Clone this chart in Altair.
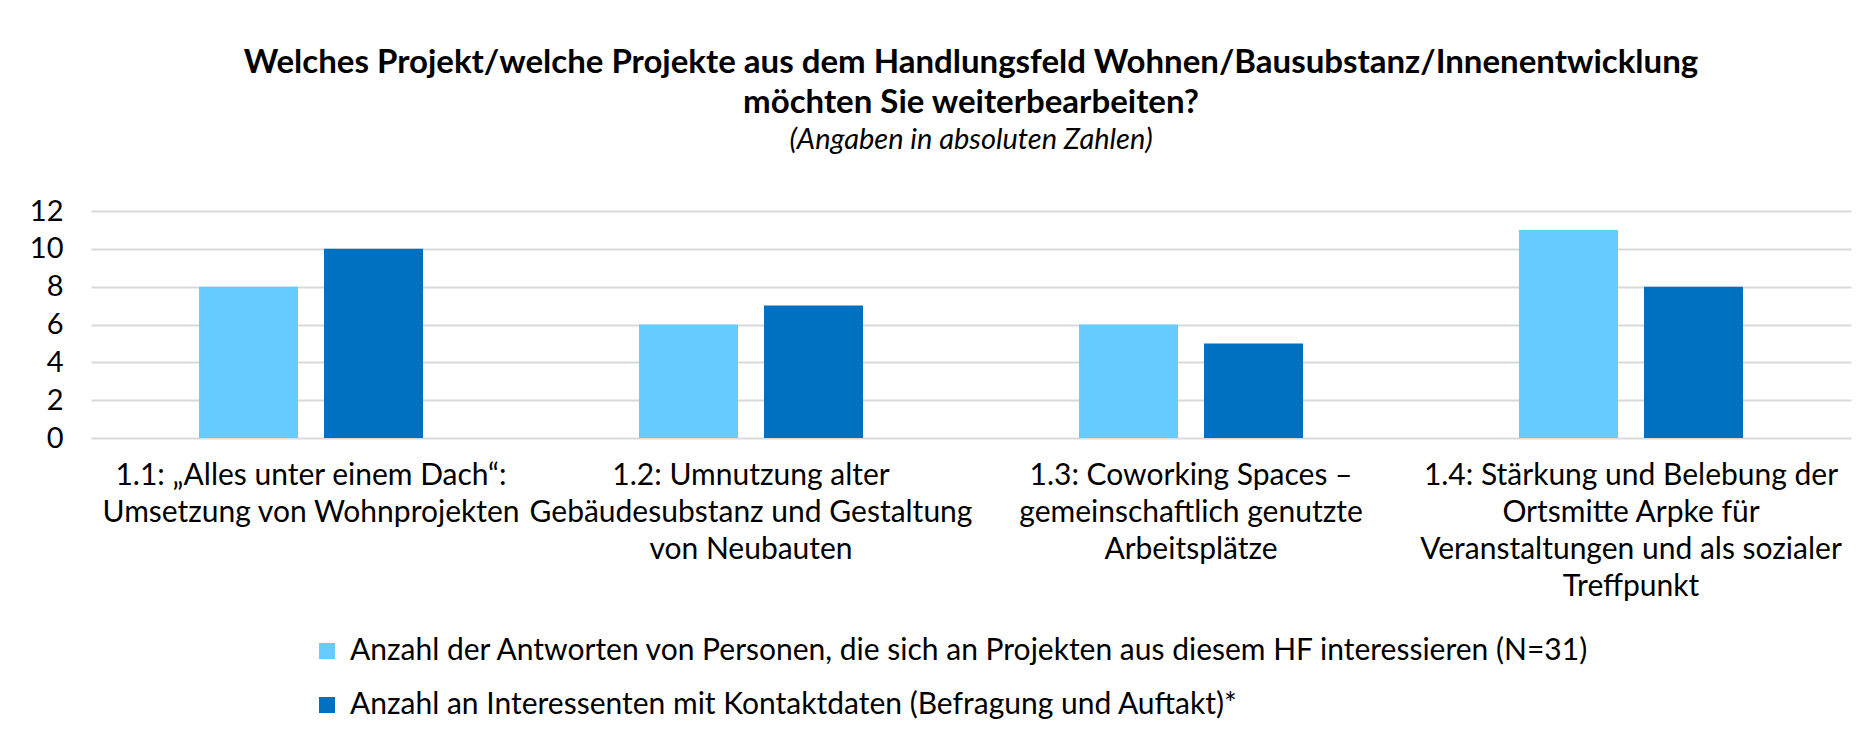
import altair as alt
import pandas as pd

categories = ["1.1", "1.2", "1.3", "1.4"]
category_labels = [
    "1.1: „Alles unter einem Dach“:|Umsetzung von Wohnprojekten",
    "1.2: Umnutzung alter|Gebäudesubstanz und Gestaltung|von Neubauten",
    "1.3: Coworking Spaces –|gemeinschaftlich genutzte|Arbeitsplätze",
    "1.4: Stärkung und Belebung der|Ortsmitte Arpke für|Veranstaltungen und als sozialer|Treffpunkt",
]
series_names = [
    "Anzahl der Antworten von Personen, die sich an Projekten aus diesem HF interessieren (N=31)",
    "Anzahl an Interessenten mit Kontaktdaten (Befragung und Auftakt)*",
]
values_interest = [8, 6, 6, 11]
values_contact = [10, 7, 5, 8]
y_ticks = [0, 2, 4, 6, 8, 10, 12]
colors = ["#66CCFF", "#0070C0"]

rows = []
for lab, v1, v2 in zip(category_labels, values_interest, values_contact):
    rows.append({"Projekt": lab, "Serie": series_names[0], "Wert": v1})
    rows.append({"Projekt": lab, "Serie": series_names[1], "Wert": v2})
df = pd.DataFrame(rows)

FONT = "Lato"

chart = alt.Chart(df).mark_bar().encode(
    x=alt.X(
        "Projekt:N",
        sort=category_labels,
        title=None,
        scale=alt.Scale(paddingInner=0, paddingOuter=0),
        axis=alt.Axis(
            labelExpr="split(datum.label, '|')",
            labelAngle=0,
            labelFontSize=30,
            labelLineHeight=37,
            labelPadding=22,
            labelColor="#000000",
            labelFont=FONT,
            domain=False,
            ticks=False,
            grid=False,
            labelLimit=0,
        ),
    ),
    xOffset=alt.XOffset(
        "Serie:N",
        sort=series_names,
        scale=alt.Scale(paddingInner=0.208, paddingOuter=0.864),
    ),
    y=alt.Y(
        "Wert:Q",
        title=None,
        scale=alt.Scale(domain=[0, 12], nice=False),
        axis=alt.Axis(
            values=y_ticks,
            labelFontSize=29,
            labelPadding=28,
            labelColor="#000000",
            labelFont=FONT,
            domain=False,
            ticks=False,
            grid=True,
            gridColor="#D9D9D9",
            gridWidth=2,
        ),
    ),
    color=alt.Color(
        "Serie:N",
        sort=series_names,
        scale=alt.Scale(domain=series_names, range=colors),
        legend=alt.Legend(
            title=None,
            orient="none",
            direction="vertical",
            legendX=221,
            legendY=425,
            symbolType="square",
            symbolSize=256,
            symbolStrokeWidth=0,
            labelFontSize=30,
            labelFont=FONT,
            labelColor="#000000",
            labelOffset=8,
            rowPadding=24,
            labelLimit=0,
        ),
    ),
).properties(
    width=1760,
    height=227,
    title=alt.TitleParams(
        text=[
            "Welches Projekt/welche Projekte aus dem Handlungsfeld Wohnen/Bausubstanz/Innenentwicklung",
            "möchten Sie weiterbearbeiten?",
        ],
        subtitle="(Angaben in absoluten Zahlen)",
        anchor="middle",
        font=FONT,
        fontSize=33,
        fontWeight="bold",
        lineHeight=40,
        color="#000000",
        subtitleFont=FONT,
        subtitleFontSize=29,
        subtitleFontStyle="italic",
        subtitleColor="#000000",
        subtitlePadding=6,
        offset=42,
    ),
    autosize=alt.AutoSizeParams(type="none"),
    padding={"left": 83, "top": 203, "right": 11, "bottom": 290},
).configure_view(stroke=None)

chart.save("out.html", embed_options={"renderer": "svg", "actions": False})
